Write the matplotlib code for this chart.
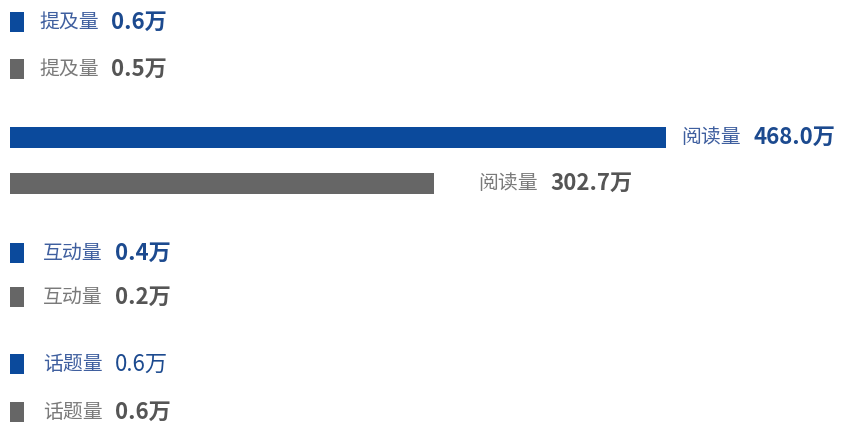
import numpy as np
import matplotlib.pyplot as plt

plt.rcParams['font.family'] = ['Noto Sans CJK SC', 'DejaVu Sans']

metrics = ['提及量', '阅读量', '互动量', '话题量']
current = [0.6, 468.0, 0.4, 0.6]     # 万
previous = [0.5, 302.7, 0.2, 0.6]    # 万

blue = '#0b4a9c'
gray = '#666666'

# row centres (pixels from top), blue row then gray row per metric
rows_blue = [22, 137.5, 253, 364]
rows_gray = [69, 183.5, 297, 412]
pad_blue = [15, 15, 19, 19]
pad_gray = [15, 44, 19, 19]
bold_blue = [True, True, True, False]

W, H = 843, 422
fig = plt.figure(figsize=(W / 100, H / 100), dpi=100)
ax = fig.add_axes([0, 0, 1, 1])
k = 656 / 468.0          # pixels per unit
ax.set_xlim(-10 / k, (W - 10) / k)
ax.set_ylim(H, 0)
ax.axis('off')

min_w = 14 / k           # tiny values still get a visible square


def draw(vals, rows, pads, color, name_c, val_c, bolds):
    widths = np.maximum(vals, min_w)
    ax.barh(rows, widths, height=20.5, left=0, color=color)
    for m, v, w, y, p, b in zip(metrics, vals, widths, rows, pads, bolds):
        ax.annotate(m, (w, y), xytext=(p, 0), textcoords='offset pixels',
                    va='center', ha='left', fontsize=14.3, color=name_c)
        ax.annotate(f'{v:.1f}万', (w, y), xytext=(p + 72, 0),
                    textcoords='offset pixels', va='center', ha='left',
                    fontsize=16, color=val_c,
                    fontweight='bold' if b else 'normal')


draw(current, rows_blue, pad_blue, blue, '#3f5f9f', '#1c4a8f', bold_blue)
draw(previous, rows_gray, pad_gray, gray, '#7a7a7a', '#555555', [True] * 4)

fig.savefig('out.png', dpi=100)
